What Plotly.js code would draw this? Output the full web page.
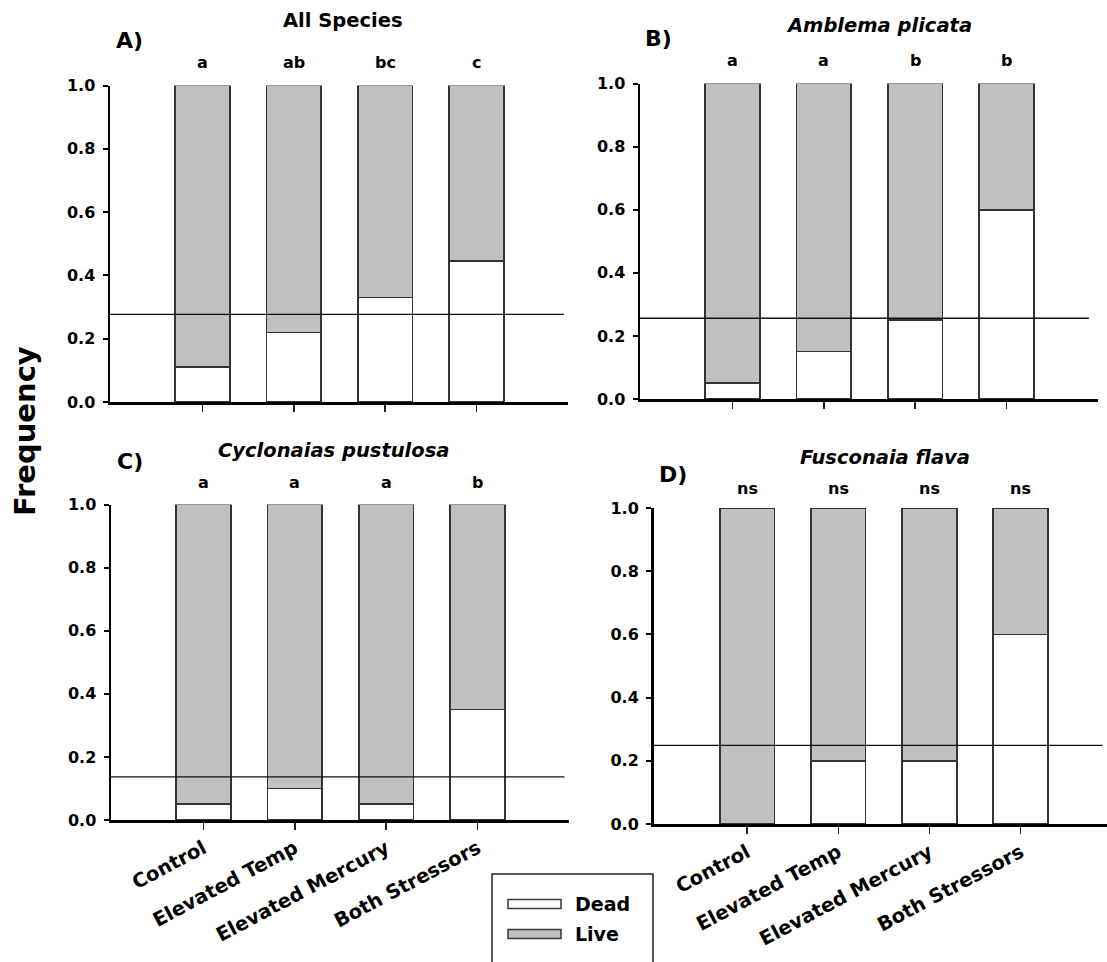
<!DOCTYPE html>
<html>
<head>
<meta charset="utf-8">
<script src="https://cdn.plot.ly/plotly-3.0.1.min.js"></script>
<style>html,body{margin:0;padding:0;background:#fff;}#chart{width:1107px;height:962px;}</style>
</head>
<body>
<div id="chart"></div>
<script>
// ---- data ----
const categories = ['Control', 'Elevated Temp', 'Elevated Mercury', 'Both Stressors'];

const deadAll = [0.11, 0.22, 0.33, 0.445];
const liveAll = [0.89, 0.78, 0.67, 0.555];
const refAll = 0.277;
const lettersAll = ['a', 'ab', 'bc', 'c'];

const deadAmblema = [0.05, 0.15, 0.25, 0.60];
const liveAmblema = [0.95, 0.85, 0.75, 0.40];
const refAmblema = 0.256;
const lettersAmblema = ['a', 'a', 'b', 'b'];

const deadCyclo = [0.05, 0.10, 0.05, 0.35];
const liveCyclo = [0.95, 0.90, 0.95, 0.65];
const refCyclo = 0.137;
const lettersCyclo = ['a', 'a', 'a', 'b'];

const deadFusco = [0.0, 0.20, 0.20, 0.60];
const liveFusco = [1.0, 0.80, 0.80, 0.40];
const refFusco = 0.249;
const lettersFusco = ['ns', 'ns', 'ns', 'ns'];

const panelTitles = ['All Species', 'Amblema plicata', 'Cyclonaias pustulosa', 'Fusconaia flava'];
const panelLabels = ['A)', 'B)', 'C)', 'D)'];

// ---- layout helpers ----
const W = 1107, H = 962;
const px = v => v / W;
const py = v => 1 - v / H;
const FONT = 'DejaVu Sans, Arial, sans-serif';

const panels = [
  {dead: deadAll, live: liveAll, ref: refAll, letters: lettersAll, title: panelTitles[0], label: panelLabels[0], italic: false,
   x0: 110, x1: 568, yTop: 85.5, yBot: 402, range: [-1.01, 4.0], refEnd: 0.991, letterY: 62, titleX: 343, titleY: 21, labelX: 114, labelY: 40, labels: false, layer: 'above traces'},
  {dead: deadAmblema, live: liveAmblema, ref: refAmblema, letters: lettersAmblema, title: panelTitles[1], label: panelLabels[1], italic: true,
   x0: 640, x1: 1098, yTop: 83.5, yBot: 399, range: [-1.01, 4.0], refEnd: 0.98, letterY: 61, titleX: 879, titleY: 26, labelX: 643, labelY: 38, labels: false, layer: 'above traces'},
  {dead: deadCyclo, live: liveCyclo, ref: refCyclo, letters: lettersCyclo, title: panelTitles[2], label: panelLabels[2], italic: true,
   x0: 111, x1: 569, yTop: 504.5, yBot: 820, range: [-1.01, 4.0], refEnd: 0.99, letterY: 482, titleX: 333, titleY: 450, labelX: 115, labelY: 461, labels: true, layer: 'above traces'},
  {dead: deadFusco, live: liveFusco, ref: refFusco, letters: lettersFusco, title: panelTitles[3], label: panelLabels[3], italic: true,
   x0: 653.5, x1: 1107, yTop: 508, yBot: 824, range: [-1.026, 3.947], refEnd: 0.99, letterY: 488, titleX: 885, titleY: 457, labelX: 657, labelY: 474, labels: true, layer: 'below traces'}
];

const traces = [];
const layout = {
  width: W, height: H,
  margin: {l: 0, r: 0, t: 0, b: 0},
  paper_bgcolor: '#ffffff', plot_bgcolor: 'rgba(0,0,0,0)',
  barmode: 'stack', showlegend: false,
  font: {family: FONT, color: '#000'},
  annotations: [], shapes: []
};

panels.forEach((p, i) => {
  const n = i === 0 ? '' : String(i + 1);
  const xa = 'x' + n, ya = 'y' + n;
  const barLine = {color: '#333333', width: 1.6};
  traces.push({type: 'bar', name: 'Dead', x: categories, y: p.dead, xaxis: xa, yaxis: ya, width: 0.6,
    marker: {color: '#ffffff', line: barLine}, hoverinfo: 'x+y'});
  traces.push({type: 'bar', name: 'Live', x: categories, y: p.live, xaxis: xa, yaxis: ya, width: 0.6,
    marker: {color: '#c0c0c0', line: barLine}, hoverinfo: 'x+y'});

  layout['xaxis' + n] = {
    domain: [px(p.x0), px(p.x1)], anchor: ya, type: 'category', range: p.range,
    showline: true, linecolor: '#000', linewidth: 2.5, mirror: false,
    ticks: 'outside', ticklen: 7, tickwidth: 1.5, tickcolor: '#222',
    showgrid: false, zeroline: false, showticklabels: p.labels, tickangle: -28,
    tickfont: {family: FONT, size: 19.5, weight: 700, color: '#000'},
    layer: p.layer, fixedrange: true
  };
  layout['yaxis' + n] = {
    domain: [py(p.yBot), py(p.yTop)], anchor: xa, range: [0, 1],
    tickvals: [0, 0.2, 0.4, 0.6, 0.8, 1.0], tickformat: '.1f',
    showline: true, linecolor: '#000', linewidth: 2.5,
    ticks: 'outside', ticklen: 5, tickwidth: 2, tickcolor: '#000',
    showgrid: false, zeroline: false, ticklabelstandoff: 4,
    tickfont: {family: FONT, size: 16, weight: 700, color: '#000'},
    layer: p.layer, fixedrange: true
  };

  // reference line
  layout.shapes.push({type: 'line', xref: xa + ' domain', yref: ya, x0: 0, x1: p.refEnd, y0: p.ref, y1: p.ref,
    line: {color: '#111', width: 1.3}, layer: 'above'});

  // significance letters
  p.letters.forEach((t, k) => {
    layout.annotations.push({xref: xa, yref: 'paper', x: categories[k], y: py(p.letterY), text: t,
      showarrow: false, xanchor: 'center', yanchor: 'middle',
      font: {family: FONT, size: 16, weight: 700, color: '#000'}});
  });
  // panel title
  layout.annotations.push({xref: 'paper', yref: 'paper', x: px(p.titleX), y: py(p.titleY), text: p.title,
    showarrow: false, xanchor: 'center', yanchor: 'middle',
    font: {family: FONT, size: 19.5, weight: 700, style: p.italic ? 'italic' : 'normal', color: '#000'}});
  // panel label
  layout.annotations.push({xref: 'paper', yref: 'paper', x: px(p.labelX), y: py(p.labelY), text: p.label,
    showarrow: false, xanchor: 'left', yanchor: 'middle',
    font: {family: FONT, size: 22, weight: 700, color: '#000'}});
});

// shared y title
layout.annotations.push({xref: 'paper', yref: 'paper', x: px(25), y: py(431), text: 'Frequency', textangle: -90,
  showarrow: false, xanchor: 'center', yanchor: 'middle',
  font: {family: FONT, size: 29, weight: 700, color: '#000'}});

// custom legend (wide swatches as in the original)
const legendItems = [
  {name: 'Dead', color: '#ffffff', yc: 904},
  {name: 'Live', color: '#c0c0c0', yc: 934}
];
layout.shapes.push({type: 'rect', xref: 'paper', yref: 'paper', x0: px(492), x1: px(653), y0: py(966), y1: py(874),
  line: {color: '#222', width: 1.5}, fillcolor: 'rgba(0,0,0,0)'});
legendItems.forEach(it => {
  layout.shapes.push({type: 'rect', xref: 'paper', yref: 'paper', x0: px(508), x1: px(561), y0: py(it.yc + 4.5), y1: py(it.yc - 4.5),
    line: {color: '#3a3a3a', width: 1.5}, fillcolor: it.color});
  layout.annotations.push({xref: 'paper', yref: 'paper', x: px(573), y: py(it.yc), text: it.name,
    showarrow: false, xanchor: 'left', yanchor: 'middle',
    font: {family: FONT, size: 19, weight: 700, color: '#000'}});
});

Plotly.newPlot('chart', traces, layout, {displayModeBar: false, staticPlot: true});
</script>
</body>
</html>
